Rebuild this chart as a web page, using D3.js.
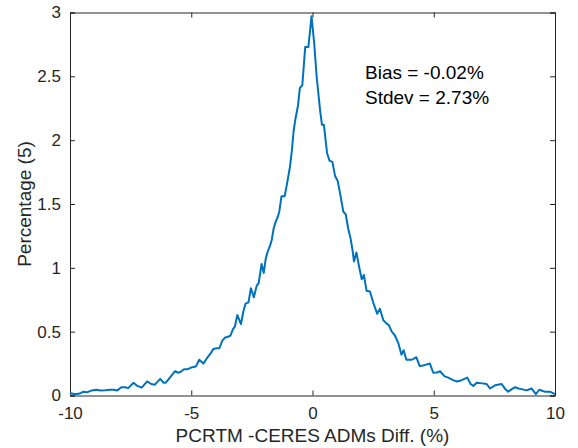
<!DOCTYPE html>
<html>
<head>
<meta charset="utf-8">
<script src="https://cdn.jsdelivr.net/npm/d3@7/dist/d3.min.js"></script>
<style>
html,body{margin:0;padding:0;background:#fff;}
svg{display:block;font-family:"Liberation Sans",Arial,Helvetica,sans-serif;}
</style>
</head>
<body>
<svg id="chart" width="578" height="448"></svg>
<script>
const diffValues = [-10.0,-9.8,-9.6,-9.45,-9.3,-9.1,-8.9,-8.75,-8.55,-8.35,-8.2,-8.05,-7.88,-7.73,-7.6,-7.38,-7.22,-7.04,-6.82,-6.65,-6.5,-6.28,-6.14,-6.05,-5.88,-5.67,-5.53,-5.4,-5.3,-5.15,-5.0,-4.85,-4.8,-4.67,-4.5,-4.36,-4.2,-4.09,-3.95,-3.84,-3.72,-3.6,-3.48,-3.38,-3.28,-3.2,-3.1,-2.95,-2.85,-2.76,-2.64,-2.54,-2.42,-2.3,-2.22,-2.1,-2.01,-1.93,-1.86,-1.74,-1.68,-1.6,-1.52,-1.43,-1.37,-1.28,-1.15,-1.05,-0.93,-0.85,-0.78,-0.7,-0.6,-0.52,-0.42,-0.3,-0.17,-0.04,0.07,0.17,0.31,0.39,0.47,0.6,0.7,0.82,0.93,1.04,1.16,1.27,1.37,1.48,1.56,1.65,1.71,1.81,1.92,2.03,2.12,2.23,2.37,2.5,2.67,2.78,2.92,3.05,3.15,3.27,3.4,3.54,3.67,3.76,3.87,4.0,4.1,4.28,4.42,4.55,4.65,4.84,4.98,5.12,5.26,5.45,5.6,5.8,5.95,6.15,6.38,6.52,6.63,6.77,7.0,7.18,7.32,7.53,7.8,7.95,8.07,8.22,8.35,8.5,8.62,8.83,9.03,9.21,9.35,9.5,9.59,9.79,10.0];
const percentValues = [0.02,0.01,0.015,0.03,0.025,0.04,0.045,0.04,0.042,0.045,0.045,0.04,0.065,0.065,0.058,0.10,0.075,0.062,0.11,0.09,0.085,0.13,0.10,0.10,0.14,0.19,0.178,0.19,0.205,0.205,0.22,0.225,0.23,0.28,0.25,0.29,0.33,0.365,0.37,0.37,0.43,0.455,0.46,0.47,0.52,0.54,0.63,0.56,0.66,0.72,0.73,0.84,0.77,0.86,0.88,1.03,0.96,1.07,1.12,1.18,1.22,1.31,1.36,1.40,1.44,1.56,1.56,1.66,1.79,1.92,2.07,2.17,2.27,2.41,2.43,2.73,2.73,2.97,2.76,2.50,2.24,2.12,2.12,1.90,1.84,1.83,1.72,1.68,1.56,1.44,1.42,1.30,1.24,1.14,1.05,1.12,1.01,0.91,0.945,0.82,0.815,0.73,0.64,0.68,0.59,0.565,0.55,0.50,0.47,0.41,0.32,0.355,0.28,0.28,0.28,0.30,0.23,0.235,0.24,0.25,0.178,0.18,0.19,0.15,0.14,0.12,0.11,0.12,0.14,0.09,0.075,0.10,0.095,0.09,0.055,0.08,0.09,0.05,0.03,0.05,0.065,0.055,0.05,0.04,0.055,0.01,0.045,0.035,0.03,0.03,0.01];
const xTicks = [-10,-5,0,5,10];
const xTickLabels = ["-10","-5","0","5","10"];
const yTicks = [0,0.5,1,1.5,2,2.5,3];
const yTickLabels = ["0","0.5","1","1.5","2","2.5","3"];
const xLabel = "PCRTM -CERES ADMs Diff. (%)";
const yLabel = "Percentage (5)";
const annotations = ["Bias = -0.02%","Stdev = 2.73%"];

const L = 70, R = 555, T = 12.5, B = 395.5;
const svg = d3.select("#chart");
const x = d3.scaleLinear().domain([-10,10]).range([L,R]);
const y = d3.scaleLinear().domain([0,3]).range([B,T]);
const axisColor = "#262626";

const gx = svg.append("g").attr("transform",`translate(0,${B})`)
  .call(d3.axisBottom(x).tickValues(xTicks).tickSize(-5).tickPadding(11).tickFormat((d,i)=>xTickLabels[i]));
const gxt = svg.append("g").attr("transform",`translate(0,${T})`)
  .call(d3.axisTop(x).tickValues(xTicks).tickSize(-5).tickFormat(""));
const gy = svg.append("g").attr("transform",`translate(${L},0)`)
  .call(d3.axisLeft(y).tickValues(yTicks).tickSize(-5).tickPadding(9).tickFormat((d,i)=>yTickLabels[i]));
const gyr = svg.append("g").attr("transform",`translate(${R},0)`)
  .call(d3.axisRight(y).tickValues(yTicks).tickSize(-5).tickFormat(""));

[gx,gxt,gy,gyr].forEach(g=>{
  g.select(".domain").attr("stroke",axisColor).attr("stroke-width",1);
  g.selectAll(".tick line").attr("stroke",axisColor).attr("stroke-width",1);
  g.selectAll(".tick text").attr("fill",axisColor).attr("font-size",17).attr("font-family","Liberation Sans, Arial, sans-serif");
});

const line = d3.line().x((d,i)=>x(diffValues[i])).y(d=>y(d));
svg.append("path").datum(percentValues)
  .attr("fill","none").attr("stroke","#0072BD").attr("stroke-width",2)
  .attr("stroke-linejoin","round").attr("d",line);

svg.append("text").attr("x",(L+R)/2).attr("y",442).attr("text-anchor","middle")
  .attr("font-size",19).attr("fill",axisColor).text(xLabel);
svg.append("text").attr("transform",`translate(31,${(T+B)/2}) rotate(-90)`).attr("text-anchor","middle")
  .attr("font-size",19).attr("fill",axisColor).text(yLabel);

annotations.forEach((t,i)=>{
  svg.append("text").attr("x",365).attr("y",79+i*25)
    .attr("font-size",19).attr("fill","#000").text(t);
});
</script>
</body>
</html>
